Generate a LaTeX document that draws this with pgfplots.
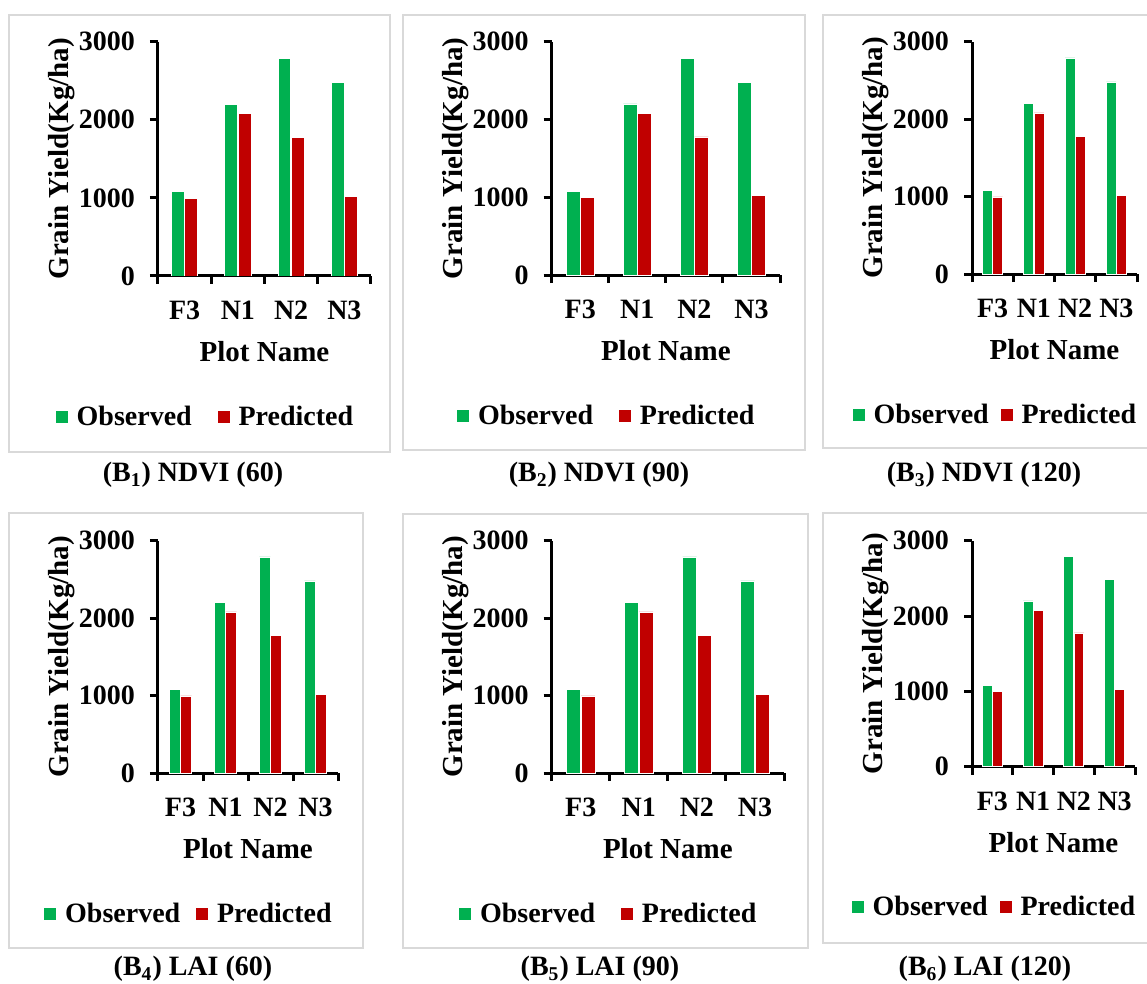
\documentclass[border=0pt]{standalone}
\usepackage{fontspec}
\setmainfont{Liberation Serif}
\usepackage{pgfplots}
\pgfplotsset{compat=1.18}
\usepackage{pgfplotstable}
\definecolor{obs}{HTML}{00B050}
\definecolor{pred}{HTML}{C00000}
\definecolor{framegray}{HTML}{D9D9D9}
\pgfplotstableread{
cat obs pred
0 1080 995
1 2200 2080
2 2790 1775
3 2480 1020
}\yielddata
\newcommand{\bff}{\bfseries\fontsize{14}{16}\selectfont}
\newcommand{\bfl}{\bfseries\fontsize{14.5}{16}\selectfont}
\pgfplotsset{
 panel/.style={
  scale only axis,
  anchor=south west,
  xmin=-0.5, xmax=3.5, ymin=0, ymax=3000,
  axis x line*=bottom, axis y line*=left,
  axis line style={line width=1.5pt,-},
  every tick/.style={black,line width=1.5pt},
  tick align=outside,
  major tick length=4pt,
  xtick={-0.5,0.5,1.5,2.5,3.5}, xticklabels={},
  extra x ticks={0,1,2,3}, extra x tick labels={F3,N1,N2,N3},
  extra x tick style={major tick length=0pt},
  ytick={0,1000,2000,3000},
  /pgf/number format/assume math mode=true,
  /pgf/number format/1000 sep={},
  tick label style={font=\bff},
  xticklabel style={yshift=-9pt},
  yticklabel style={xshift=-4pt},
  label style={font=\bfl},
  xlabel style={yshift=0pt},
  ylabel shift=-5pt,
  xlabel={Plot Name}, ylabel={Grain Yield(Kg/ha)},
  legend columns=2,
  legend style={draw=none, fill=none, at={(axis description cs:0.5,0)}, anchor=center,
    xshift=-29pt, yshift=-70.5pt, font=\bff,
    /tikz/every even column/.append style={column sep=#1}},
 },
 obsbar/.style={ybar, bar width=0.24, bar shift=-0.125, fill=obs, draw=white, line width=0.4pt,
   legend image code/.code={\fill[obs] (0pt,-0.25em) rectangle (0.55em,0.3em);\path (0.8em,0);}},
 predbar/.style={ybar, bar width=0.24, bar shift=0.125, fill=pred, draw=white, line width=0.4pt,
   legend image code/.code={\fill[pred] (0pt,-0.25em) rectangle (0.55em,0.3em);\path (0.8em,0);}},
}
\newcommand{\bars}{%
  \addplot[obsbar] table[x=cat,y=obs]{\yielddata};
  \addplot[predbar] table[x=cat,y=pred]{\yielddata};
  \legend{Observed,Predicted}}
\begin{document}
\begin{tikzpicture}[x=0.5pt,y=-0.5pt]
\useasboundingbox (0,0) rectangle (1147,984);
\fill[white] (0,0) rectangle (1147,984);
\begin{scope}[draw=framegray,line width=0.9pt]
\draw (9,15) rectangle (390,452);
\draw (403,15) rectangle (805,450);
\draw (823,15) rectangle (1170,448);
\draw (9,513) rectangle (363,948);
\draw (403,514) rectangle (808,948);
\draw (823,513) rectangle (1170,943);
\end{scope}
\begin{axis}[panel=11pt, at={(79pt,-138pt)}, width=106.5pt, height=117.15pt]\bars\end{axis}
\begin{axis}[panel=11pt, at={(275.85pt,-137.5pt)}, width=114.15pt, height=116.65pt]\bars\end{axis}
\begin{axis}[panel=4pt, at={(486pt,-137pt)}, width=82.5pt, height=116.15pt]\bars\end{axis}
\begin{axis}[panel=6pt, at={(79pt,-386.5pt)}, width=90pt, height=116.15pt]\bars\end{axis}
\begin{axis}[panel=11pt, at={(275.85pt,-386.5pt)}, width=116.15pt, height=116.15pt]\bars\end{axis}
\begin{axis}[panel=4pt, at={(486pt,-383.35pt)}, width=81.5pt, height=113pt]\bars\end{axis}
\begin{scope}[every node/.style={font=\bfseries\fontsize{14}{16}\selectfont}]
\node at (193,475) {(B\textsubscript{1}) NDVI (60)};
\node at (599,475) {(B\textsubscript{2}) NDVI (90)};
\node at (984,475) {(B\textsubscript{3}) NDVI (120)};
\node at (193,969) {(B\textsubscript{4}) LAI (60)};
\node at (600,969) {(B\textsubscript{5}) LAI (90)};
\node at (985,969) {(B\textsubscript{6}) LAI (120)};
\end{scope}
\end{tikzpicture}
\end{document}
